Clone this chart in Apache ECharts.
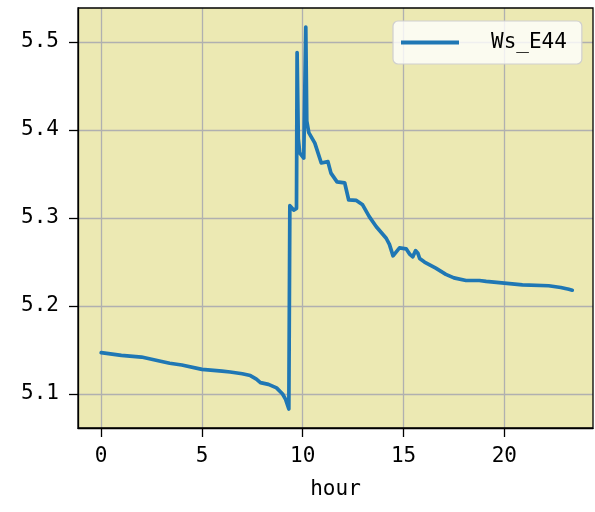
<!DOCTYPE html>
<html>
<head>
<meta charset="utf-8">
<script src="https://cdn.jsdelivr.net/npm/echarts@6/dist/echarts.min.js"></script>
<style>html,body{margin:0;padding:0;background:#fff;}#c{width:595px;height:512px;}</style>
</head>
<body>
<div id="c"></div>
<script>
const seriesName = 'Ws_E44';
const hours = [0, 1, 2, 3, 3.4, 4, 5, 6, 6.4, 7, 7.4, 7.7, 7.9, 8.3, 8.7, 9.0, 9.15, 9.31,
  9.36, 9.42, 9.55, 9.69, 9.72, 9.78, 9.85, 10.05, 10.12, 10.15, 10.2, 10.3, 10.6, 10.92,
  11.25, 11.4, 11.7, 12.08, 12.28, 12.66, 12.97, 13.3, 13.65, 14.14, 14.3, 14.48, 14.8,
  15.13, 15.3, 15.46, 15.6, 15.71, 15.8, 16.04, 16.6, 17.1, 17.5, 18.1, 18.76, 19.1, 20,
  20.9, 22.2, 22.8, 23.2, 23.37];
const wsValues = [5.147, 5.144, 5.142, 5.137, 5.135, 5.133, 5.128, 5.126, 5.125, 5.123, 5.121,
  5.117, 5.113, 5.111, 5.107, 5.100, 5.094, 5.083,
  5.314, 5.313, 5.309, 5.311, 5.488, 5.39, 5.374, 5.368, 5.37, 5.517, 5.41, 5.397, 5.385,
  5.3625, 5.364, 5.351, 5.341, 5.340, 5.3205, 5.32, 5.315, 5.3015, 5.29, 5.277, 5.270,
  5.257, 5.266, 5.265, 5.259, 5.256, 5.263, 5.260, 5.254, 5.250, 5.243, 5.236, 5.232,
  5.229, 5.229, 5.228, 5.226, 5.224, 5.223, 5.221, 5.219, 5.218];
const xTicks = [0, 5, 10, 15, 20];
const yTicks = [5.1, 5.2, 5.3, 5.4, 5.5];

const FONT = 'DejaVu Sans Mono';
const chart = echarts.init(document.getElementById('c'), null, {renderer: 'canvas'});
const data = hours.map((h, i) => [h, wsValues[i]]);
chart.setOption({
  animation: false,
  backgroundColor: '#ffffff',
  textStyle: {fontFamily: FONT},
  grid: {left: 78, right: 2, top: 8, bottom: 84, show: true, backgroundColor: '#ece9b3', borderWidth: 0},
  legend: {
    data: [seriesName], left: 393, top: 21,
    padding: [11, 15, 11, 8],
    icon: 'rect', itemWidth: 58, itemHeight: 4,
    backgroundColor: 'rgba(255,255,255,0.8)', borderColor: '#cfcfcf', borderWidth: 1.2, borderRadius: 5,
    textStyle: {fontFamily: FONT, fontSize: 21, color: '#000', lineHeight: 21, padding: [0, 0, 0, 27]}
  },
  xAxis: {
    type: 'value', min: -1.15, max: 24.4,
    name: 'hour', nameLocation: 'middle', nameGap: 51,
    nameTextStyle: {fontFamily: FONT, fontSize: 21, color: '#000'},
    axisLine: {show: true, onZero: false, lineStyle: {color: '#000', width: 1.3}},
    axisTick: {show: true, length: 9, customValues: xTicks, lineStyle: {color: '#000', width: 1.3}},
    axisLabel: {customValues: xTicks, fontFamily: FONT, fontSize: 21, color: '#000', margin: 18},
    splitLine: {show: true, lineStyle: {color: '#b0b0b0', width: 1.3}}
  },
  yAxis: {
    type: 'value', min: 5.0614, max: 5.5386,
    axisLine: {show: true, onZero: false, lineStyle: {color: '#000', width: 1.3}},
    axisTick: {show: true, length: 9, customValues: yTicks, lineStyle: {color: '#000', width: 1.3}},
    axisLabel: {customValues: yTicks, fontFamily: FONT, fontSize: 21, color: '#000', margin: 19,
      formatter: v => v.toFixed(1)},
    splitLine: {show: true, lineStyle: {color: '#b0b0b0', width: 1.3}}
  },
  series: [{
    name: seriesName, type: 'line', data: data, showSymbol: false, symbol: 'none',
    itemStyle: {color: '#1f77b4'},
    lineStyle: {color: '#1f77b4', width: 3.7, join: 'round', cap: 'round'}
  }],
  graphic: [{
    type: 'rect', silent: true, z: 100,
    shape: {x: 78, y: 8, width: 515, height: 420},
    style: {fill: 'none', stroke: '#000', lineWidth: 1.3}
  }]
});
</script>
</body>
</html>
